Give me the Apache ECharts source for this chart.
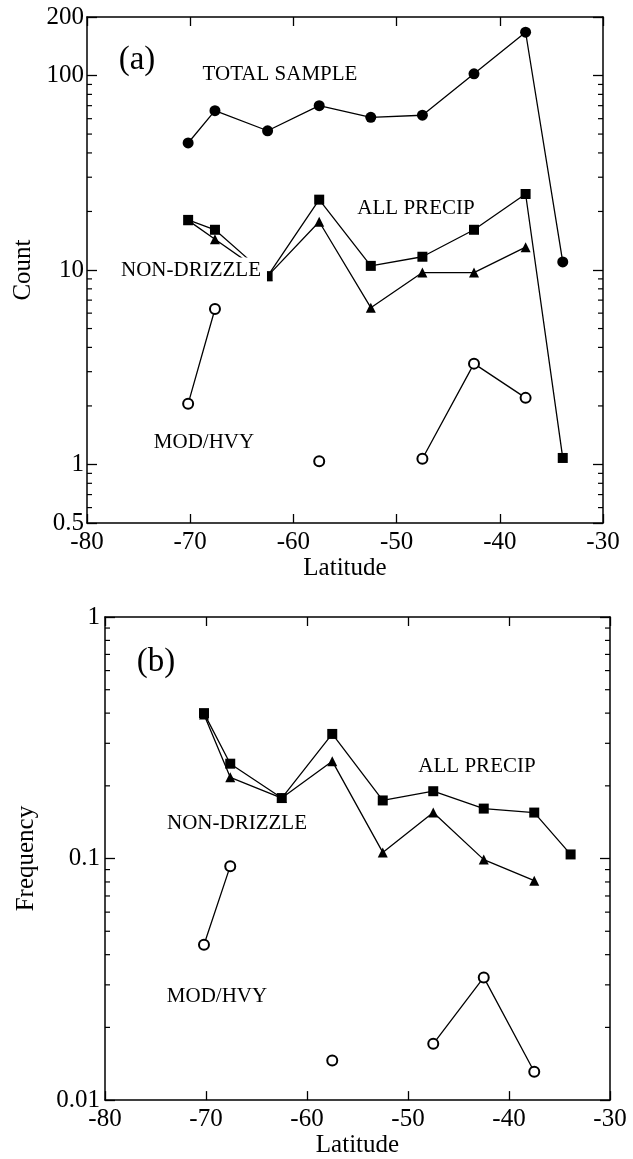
<!DOCTYPE html>
<html>
<head>
<meta charset="utf-8">
<script src="https://cdn.jsdelivr.net/npm/echarts@6/dist/echarts.min.js"></script>
<style>
html,body{margin:0;padding:0;background:#fff;}
#chart{width:633px;height:1159px;}
</style>
</head>
<body>
<div id="chart"></div>
<script>
// ---------- data ----------
var latitude = [-70.2, -67.6, -62.5, -57.5, -52.5, -47.5, -42.5, -37.5, -33.9];

// Panel (a): counts
var totalSample     = [45, 66, 52, 70, 61, 62.5, 102, 167, 11];
var allPrecipCount  = [18.1, 16.1, 9.3, 23, 10.5, 11.7, 16.1, 24.6, 1.08];
var nonDrizzleCount = [18, 14.4, 9.3, 17.7, 6.4, 9.7, 9.7, 13.1, null];
var modHvyCount     = [2.05, 6.3, null, 1.04, null, 1.07, 3.3, 2.2, null];

// Panel (b): frequencies
var allPrecipFreq   = [0.40, 0.247, 0.178, 0.328, 0.174, 0.19, 0.161, 0.155, 0.104];
var nonDrizzleFreq  = [0.395, 0.217, 0.178, 0.253, 0.106, 0.155, 0.099, 0.081, null];
var modHvyFreq      = [0.044, 0.093, null, 0.0146, null, 0.0171, 0.0322, 0.0131, null];

// axes
var xRange = [-80, -30];
var xInterval = 10;
var countRange = [0.5, 200];
var freqRange = [0.01, 1];
var minorTicksCount = [0.6, 0.7, 0.8, 0.9, 2, 3, 4, 5, 6, 7, 8, 9, 20, 30, 40, 50, 60, 70, 80, 90];
var minorTicksFreq = [0.02, 0.03, 0.04, 0.05, 0.06, 0.07, 0.08, 0.09, 0.2, 0.3, 0.4, 0.5, 0.6, 0.7, 0.8, 0.9];

// ---------- helpers ----------
var FONT = "'Liberation Serif','Times New Roman',Times,serif";
function pairs(ys) {
  return latitude.map(function (x, i) { return [x, ys[i] == null ? '-' : ys[i]]; });
}
function fmt(v) { return String(+Number(v).toPrecision(3)); }

function xAxes(gi, nameGap) {
  var common = {
    type: 'value', gridIndex: gi, min: xRange[0], max: xRange[1], interval: xInterval,
    axisLine: { show: true, onZero: false, lineStyle: { color: '#000', width: 1.5 } },
    axisTick: { show: true, inside: true, length: 9, lineStyle: { color: '#000', width: 1.3 } },
    splitLine: { show: false }
  };
  var bottom = Object.assign({}, common, {
    position: 'bottom',
    axisLabel: { color: '#000', fontSize: 25, fontFamily: FONT, margin: 7 },
    name: 'Latitude', nameLocation: 'middle', nameGap: nameGap,
    nameTextStyle: { color: '#000', fontSize: 25, fontFamily: FONT }
  });
  var top = Object.assign({}, common, { position: 'top', axisLabel: { show: false } });
  return [bottom, top];
}
function yAxes(gi, range, name, nameGap, labelMargin) {
  var common = {
    type: 'log', logBase: 10, gridIndex: gi, min: range[0], max: range[1],
    axisLine: { show: true, lineStyle: { color: '#000', width: 1.5 } },
    axisTick: { show: true, inside: true, length: 10, lineStyle: { color: '#000', width: 1.3 } },
    splitLine: { show: false }, minorTick: { show: false }
  };
  var left = Object.assign({}, common, {
    position: 'left',
    axisLabel: { color: '#000', fontSize: 25, fontFamily: FONT, margin: labelMargin, formatter: fmt },
    name: name, nameLocation: 'middle', nameGap: nameGap, nameRotate: 90,
    nameTextStyle: { color: '#000', fontSize: 25, fontFamily: FONT }
  });
  var right = Object.assign({}, common, { position: 'right', axisLabel: { show: false } });
  return [left, right];
}
function lineSeries(xi, yi, ys, symbol, size) {
  var open = symbol === 'emptyCircle';
  return {
    type: 'line', xAxisIndex: xi, yAxisIndex: yi, data: pairs(ys),
    symbol: symbol, symbolSize: size, connectNulls: false, animation: false,
    showAllSymbol: true,
    lineStyle: { color: '#000', width: 1.3 },
    itemStyle: { color: '#000', borderColor: '#000', borderWidth: open ? 1.5 : 0 },
    emphasis: { disabled: true }, z: 3
  };
}
function minorSeries(xi, yi, ticks) {
  return {
    type: 'custom', xAxisIndex: xi, yAxisIndex: yi, animation: false, silent: true,
    data: ticks.map(function (v) { return [xRange[0], v]; }),
    renderItem: function (params, api) {
      var v = api.value(1);
      var pL = api.coord([xRange[0], v]);
      var pR = api.coord([xRange[1], v]);
      return { type: 'group', children: [
        { type: 'line', shape: { x1: pL[0], y1: pL[1], x2: pL[0] + 5, y2: pL[1] }, style: { stroke: '#000', lineWidth: 1.2 } },
        { type: 'line', shape: { x1: pR[0] - 5, y1: pR[1], x2: pR[0], y2: pR[1] }, style: { stroke: '#000', lineWidth: 1.2 } }
      ]};
    }
  };
}
function label(text, x, y, size, bg) {
  return {
    type: 'text', x: x, y: y, z: 100,
    style: {
      text: text, fill: '#000', font: size + 'px ' + FONT,
      align: 'center', verticalAlign: 'middle',
      backgroundColor: bg ? '#fff' : 'transparent', padding: bg ? [2, 6, 2, 6] : 0
    }
  };
}

var chart = echarts.init(document.getElementById('chart'), null, { renderer: 'canvas' });
chart.setOption({
  backgroundColor: '#fff',
  animation: false,
  grid: [
    { left: 87, top: 17, width: 516, height: 506, show: false },
    { left: 105, top: 617, width: 505, height: 493, show: false }
  ],
  xAxis: xAxes(0, 21).concat(xAxes(1, 25)),
  yAxis: yAxes(0, countRange, 'Count', 48, 3).concat(yAxes(1, freqRange, 'Frequency', 66, 5)),
  series: [
    minorSeries(0, 0, minorTicksCount),
    lineSeries(0, 0, totalSample, 'circle', 11),
    lineSeries(0, 0, nonDrizzleCount, 'triangle', 10),
    lineSeries(0, 0, allPrecipCount, 'rect', 10),
    lineSeries(0, 0, modHvyCount, 'emptyCircle', 10),
    minorSeries(2, 2, minorTicksFreq),
    lineSeries(2, 2, nonDrizzleFreq, 'triangle', 10),
    lineSeries(2, 2, allPrecipFreq, 'rect', 10),
    lineSeries(2, 2, modHvyFreq, 'emptyCircle', 10)
  ],
  graphic: [
    label('(a)', 137, 60, 33, false),
    label('TOTAL SAMPLE', 280, 74, 21, false),
    label('ALL PRECIP', 416, 208, 21, false),
    label('NON-DRIZZLE', 191, 270, 21, true),
    label('MOD/HVY', 204, 442, 21, false),
    label('(b)', 156, 662, 33, false),
    label('ALL PRECIP', 477, 766, 21, false),
    label('NON-DRIZZLE', 237, 823, 21, false),
    label('MOD/HVY', 217, 996, 21, false)
  ]
});
</script>
</body>
</html>
